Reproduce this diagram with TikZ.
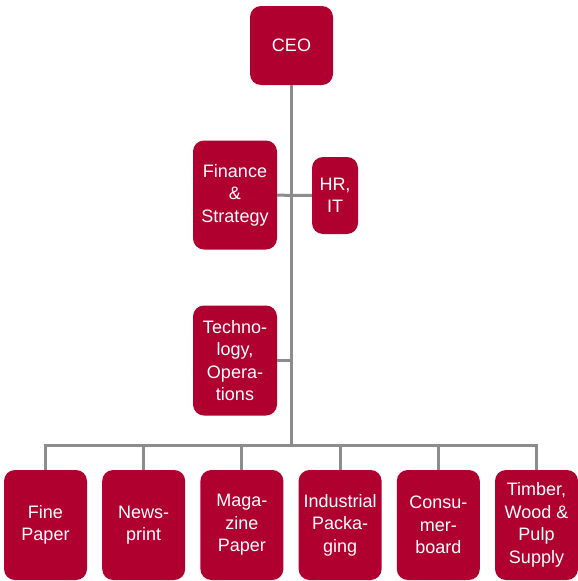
\documentclass[tikz,border=0pt]{standalone}
\usepackage{fontspec}
\setmainfont{Liberation Sans}
\usepackage{xcolor}
\definecolor{unitred}{RGB}{176,0,48}
\definecolor{linkgray}{RGB}{140,140,140}
\tikzset{
    unit/.style={fill=unitred,rounded corners=11pt,text=white,align=center,inner sep=0pt,
        font=\fontsize{18}{22.5}\selectfont},
    link/.style={draw=linkgray,line width=3pt}
}

\begin{document}
\begin{tikzpicture}[x=1pt,y=-1pt]
		\useasboundingbox (0,0) rectangle (578,581);
		\node[unit,minimum width=83pt,minimum height=79pt] (ceo) at (291.5,45.5) {CEO};
		\node[unit,minimum width=84pt,minimum height=109pt] (fin) at (235,195) {Finance\\\&\\Strategy};
		\node[unit,minimum width=46pt,minimum height=77pt] (hr) at (335,195.5) {HR,\\IT};
		\node[unit,minimum width=84pt,minimum height=110pt] (tech) at (235,360.5) {Techno-\\logy,\\Opera-\\tions};
		\foreach \i / \t in {1/{Fine\\Paper},2/{News-\\print},3/{Maga-\\zine\\Paper},4/{Industrial\\Packa-\\ging},5/{Consu-\\mer-\\board},6/{Timber,\\Wood \&\\Pulp\\Supply}} \node[unit,minimum width=83pt,minimum height=110pt] (bu\i) at ({45.5+98.2*(\i-1)},525) {\t};
		\coordinate (bus) at (291.5,445.7);
		\draw[link] (ceo) -- (ceo |- bus);
		\draw[link] (fin) -- (hr);
		\draw[link] (tech) -- (tech -| ceo);
		\draw[link] (bu1.north) |- (bus) -| (bu6.north);
		\foreach \i in {2,...,5} \draw[link] (bu\i) -- (bu\i |- bus);
	\end{tikzpicture}
\end{document}
